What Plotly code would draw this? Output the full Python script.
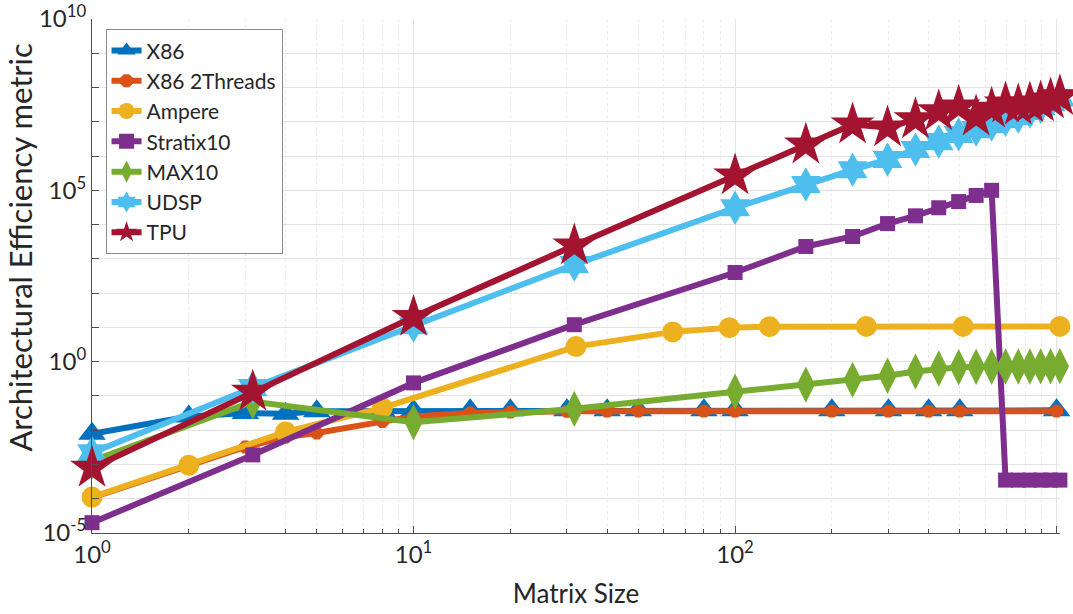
import plotly.graph_objects as go

# ---------------- data ----------------
x_x86 = [1, 2, 3, 4, 5, 8, 10, 15, 20, 30, 40, 50, 80, 100, 200, 300, 400, 500, 1000]
y_x86 = [7.9e-3, 0.0251, 0.0316, 0.0302, 0.0355, 0.0355, 0.0372, 0.038, 0.038, 0.038,
         0.038, 0.038, 0.038, 0.038, 0.038, 0.038, 0.038, 0.038, 0.038]

x_x86_2t = [1, 2, 3, 4, 5, 8, 10, 15, 20, 30, 40, 50, 80, 100, 200, 300, 400, 500, 1000]
y_x86_2t = [1.07e-4, 8.9e-4, 3.24e-3, 6.3e-3, 8.3e-3, 0.0178, 0.0251, 0.0316, 0.0339, 0.0355,
            0.036, 0.036, 0.036, 0.036, 0.036, 0.036, 0.036, 0.036, 0.036]

x_ampere = [1, 2, 4, 8, 32, 64, 96, 128, 256, 512, 1024]
y_ampere = [1.12e-4, 9.5e-4, 8.9e-3, 0.0447, 2.75, 7.4, 9.8, 10.5, 10.7, 10.7, 10.7]

x_fpga = [1, 3.1623, 10, 31.623, 100, 166, 232, 298, 364, 430, 496, 562, 628,
          694, 760, 826, 892, 958, 1024]

y_stratix = [2.0e-5, 1.9e-3, 0.24, 12, 400, 2300, 4500, 10700, 18000, 31000, 47000,
             71000, 100000, 3.5e-4, 3.5e-4, 3.5e-4, 3.5e-4, 3.5e-4, 3.5e-4]

y_max10 = [1.26e-3, 0.068, 0.017, 0.042, 0.132, 0.214, 0.295, 0.389, 0.513, 0.63, 0.69,
           0.71, 0.71, 0.72, 0.72, 0.72, 0.73, 0.73, 0.74]

y_udsp = [2.19e-3, 0.174, 11.2, 676, 31000, 148000, 398000, 794000, 1.55e6, 2.63e6,
          4.27e6, 5.9e6, 8.3e6, 1.15e7, 1.41e7, 2.0e7, 2.75e7, 3.63e7, 5.0e7]

y_tpu = [7.9e-4, 0.132, 20, 2450, 269000, 2.14e6, 8.3e6, 6.8e6, 1.17e7, 2.0e7, 2.75e7,
         1.41e7, 2.4e7, 3.4e7, 2.95e7, 3.4e7, 3.63e7, 4.47e7, 5.5e7]

x_tickvals = [1, 10, 100, 1000]
x_ticktext = ["10<sup>0</sup>", "10<sup>1</sup>", "10<sup>2</sup>", "10<sup>3</sup>"]
x_minor = [2, 3, 4, 5, 6, 7, 8, 9, 20, 30, 40, 50, 60, 70, 80, 90,
           200, 300, 400, 500, 600, 700, 800, 900]
y_tickvals = [1e-5, 1e0, 1e5, 1e10]
y_ticktext = ["10<sup>-5</sup>", "10<sup>0</sup>", "10<sup>5</sup>", "10<sup>10</sup>"]
y_minor = [1e-4, 1e-3, 1e-2, 1e-1, 1e1, 1e2, 1e3, 1e4, 1e6, 1e7, 1e8, 1e9]

series = [
    ("X86", x_x86, y_x86, "#0072BD", "triangle-up", 24),
    ("X86 2Threads", x_x86_2t, y_x86_2t, "#D95319", "octagon", 14),
    ("Ampere", x_ampere, y_ampere, "#EDB120", "circle", 21),
    ("Stratix10", x_fpga, y_stratix, "#7E2F8E", "square", 15),
    ("MAX10", x_fpga, y_max10, "#77AC30", "diamond-tall", 26),
    ("UDSP", x_fpga, y_udsp, "#4DBEEE", "hexagram", 26),
    ("TPU", x_fpga, y_tpu, "#A2142F", "star", 33),
]

fig = go.Figure()
for name, xs, ys, color, sym, size in series:
    fig.add_trace(go.Scatter(
        x=xs, y=ys, name=name, mode="lines+markers",
        line=dict(color=color, width=6),
        marker=dict(symbol=sym, size=size, color=color, line=dict(width=0)),
        cliponaxis=False,
    ))

font_family = "Lato, 'Open Sans', sans-serif"
x_hi = 3.0106  # just past 1024 so the last markers are drawn
fig.update_layout(
    width=1073, height=614,
    margin=dict(l=92, r=13, t=19, b=81, autoexpand=False),
    plot_bgcolor="white", paper_bgcolor="white",
    font=dict(family=font_family, color="#262626"),
    legend=dict(x=0.014, y=0.98, xanchor="left", yanchor="top",
                bordercolor="#8c8c8c", borderwidth=1, bgcolor="white",
                font=dict(size=21, color="#262626"), itemwidth=30,
                tracegroupgap=0),
    xaxis=dict(
        type="log", range=[0, x_hi], automargin=False,
        tickmode="array", tickvals=x_tickvals, ticktext=x_ticktext,
        ticks="inside", ticklen=7, tickcolor="#4d4d4d",
        showline=True, linecolor="#4d4d4d", linewidth=1, mirror=False,
        showgrid=True, gridcolor="#e3e3e3", gridwidth=1,
        zeroline=False,
        tickfont=dict(size=24, color="#262626"),
        minor=dict(tickmode="array", tickvals=x_minor, ticks="inside", ticklen=4,
                   tickcolor="#4d4d4d", showgrid=True, gridcolor="#ebebeb",
                   griddash="dot"),
        title=dict(text="Matrix Size", font=dict(size=26, color="#262626"), standoff=18),
    ),
    yaxis=dict(
        type="log", range=[-5, 10], automargin=False,
        tickmode="array", tickvals=y_tickvals, ticktext=y_ticktext,
        ticks="inside", ticklen=7, tickcolor="#4d4d4d",
        showline=True, linecolor="#4d4d4d", linewidth=1, mirror=False,
        showgrid=True, gridcolor="#e3e3e3", gridwidth=1,
        zeroline=False,
        tickfont=dict(size=24, color="#262626"),
        minor=dict(tickmode="array", tickvals=y_minor, ticks="inside", ticklen=7,
                   tickcolor="#4d4d4d", showgrid=True, gridcolor="#e3e3e3"),
    ),
    annotations=[dict(
        text="Architectural Efficiency metric", textangle=-90,
        xref="paper", yref="paper", x=-0.0745, y=0.557,
        xanchor="center", yanchor="middle", showarrow=False,
        font=dict(size=31, color="#262626"),
    )],
)

fig.write_html("out.html")
